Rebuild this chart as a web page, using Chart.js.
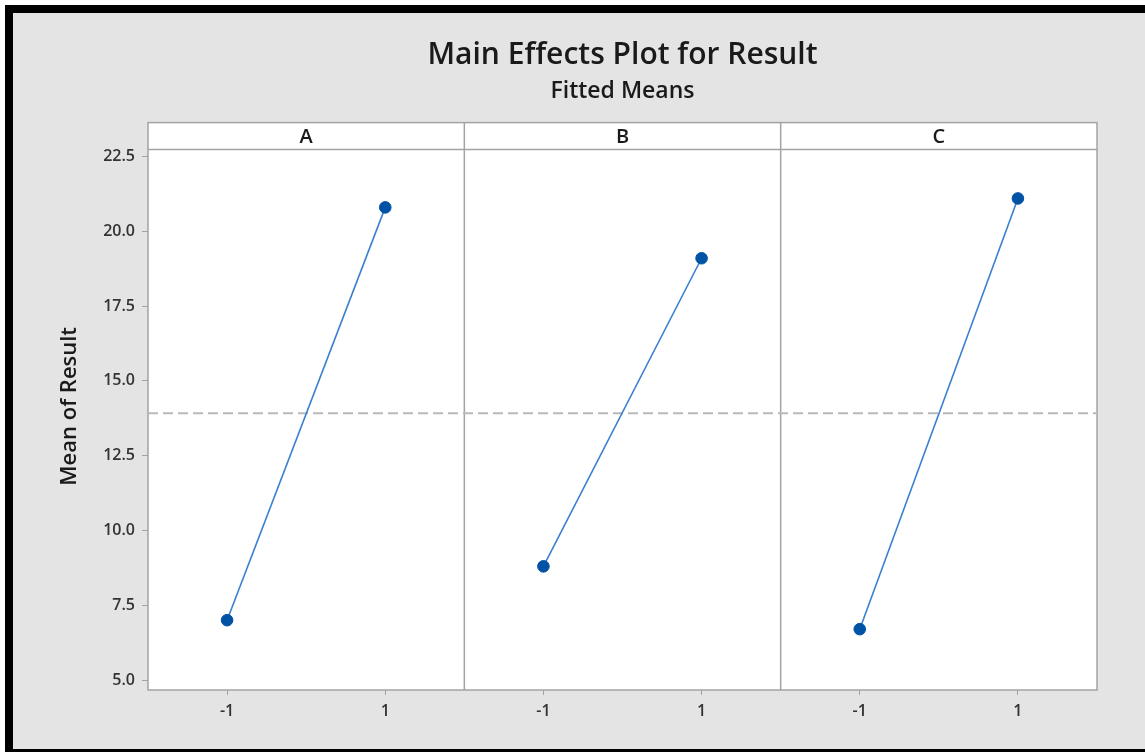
<!DOCTYPE html>
<html>
<head>
<meta charset="utf-8">
<title>Main Effects Plot for Result</title>
<script src="https://cdn.jsdelivr.net/npm/chart.js@4/dist/chart.umd.min.js"></script>
<style>
  html, body { margin: 0; padding: 0; background: #fff; }
  #frame {
    position: absolute; left: 5px; top: 5px;
    width: 1132px; height: 736px;
    border-left: 8px solid #000; border-top: 8px solid #000; border-bottom: 3px solid #000;
    background: #e4e4e4;
  }
  #wrap { position: relative; width: 1132px; height: 736px; }
</style>
</head>
<body>
<div id="frame"><div id="wrap"><canvas id="chart"></canvas></div></div>
<script>
// factors shown as panels, each with two levels
const factors = ["A", "B", "C"];
const levels = [-1, 1];
const levelLabels = ["-1", "1"];

// fitted means of Result for each factor at level -1 and 1
const meansA = [7.0, 20.8];
const meansB = [8.8, 19.1];
const meansC = [6.7, 21.1];

const yTicks = [5.0, 7.5, 10.0, 12.5, 15.0, 17.5, 20.0, 22.5];

const FONT = "'Open Sans', 'Noto Sans', sans-serif";
const panelWidth = 4;   // each panel spans level -2 .. 2
const lineColor = "#3b7fd0";
const pointColor = "#0052a5";
const frameColor = "#a3a3a3";

const allMeans = [meansA, meansB, meansC];
const grandMean = allMeans.flat().reduce((s, v) => s + v, 0) / allMeans.flat().length;

const xMin = -panelWidth / 2;
const xMax = xMin + panelWidth * factors.length;

function panelDatasets() {
    return allMeans.map((means, idx) => {
        return {
            "label": factors[idx],
            "data": levels.map((lv, i) => ({x: lv + panelWidth * idx, y: means[i]})),
            "borderColor": lineColor,
            "borderWidth": 1.6,
            "pointRadius": 5.8,
            "pointBackgroundColor": pointColor,
            "pointBorderColor": pointColor,
            "pointBorderWidth": 1,
            "showLine": true,
            "fill": false,
            "order": 1
        };
    });
}

// frame, strip headers and panel dividers
const panelPlugin = {
    id: "panels",
    beforeDraw(chart) {
        const {ctx, chartArea} = chart;
        ctx.save();
        ctx.fillStyle = "#fff";
        ctx.fillRect(chartArea.left, chartArea.top, chartArea.right - chartArea.left, chartArea.bottom - chartArea.top);
        ctx.restore();
    },
    beforeDatasetsDraw(chart) {
        const {ctx, chartArea, scales} = chart;
        const stripH = 27;
        ctx.save();
        ctx.strokeStyle = frameColor;
        ctx.lineWidth = 1.5;
        ctx.strokeRect(chartArea.left, chartArea.top, chartArea.right - chartArea.left, chartArea.bottom - chartArea.top);

        ctx.beginPath();
        ctx.moveTo(chartArea.left, chartArea.top + stripH);
        ctx.lineTo(chartArea.right, chartArea.top + stripH);
        for (let i = 1; i < factors.length; i++) {
            const x = scales.x.getPixelForValue(xMin + panelWidth * i);
            ctx.moveTo(x, chartArea.top);
            ctx.lineTo(x, chartArea.bottom);
        }
        ctx.stroke();

        ctx.fillStyle = "#1a1a1a";
        ctx.font = "600 20px " + FONT;
        ctx.textAlign = "center";
        ctx.textBaseline = "middle";
        factors.forEach((f, i) => {
            const x = scales.x.getPixelForValue(panelWidth * i);
            ctx.fillText(f, x, chartArea.top + stripH / 2 + 1);
        });
        ctx.restore();
    }
};

const datasets = panelDatasets();
datasets.push({
    "label": "mean",
    "data": [{x: xMin, y: grandMean}, {x: xMax, y: grandMean}],
    "borderColor": "#b9b9b9",
    "borderWidth": 2,
    "borderDash": [10, 5],
    "pointRadius": 0,
    "showLine": true,
    "fill": false,
    "order": 2
});

new Chart(document.getElementById("chart"), {
    type: "scatter",
    data: {datasets: datasets},
    plugins: [panelPlugin],
    options: {
        responsive: true,
        maintainAspectRatio: false,
        animation: false,
        layout: {padding: {left: 0, right: 48, top: 0, bottom: 0}},
        plugins: {
            legend: {display: false},
            tooltip: {enabled: false},
            title: {
                display: true,
                fullSize: false,
                text: "Main Effects Plot for Result",
                color: "#1a1a1a",
                font: {family: FONT, size: 30, weight: "600"},
                padding: {top: 24.4, bottom: 2}
            },
            subtitle: {
                display: true,
                fullSize: false,
                text: "Fitted Means",
                color: "#1a1a1a",
                font: {family: FONT, size: 23, weight: "600"},
                padding: {top: 2.4, bottom: 17.2}
            }
        },
        scales: {
            x: {
                type: "linear",
                min: xMin,
                max: xMax,
                afterBuildTicks: scale => {
                    scale.ticks = factors.flatMap((f, i) => levels.map(lv => ({value: lv + panelWidth * i})));
                },
                afterFit: scale => { scale.height = 59; },
                ticks: {
                    color: "#333",
                    font: {family: FONT, size: 16, weight: "600"},
                    padding: 7,
                    maxRotation: 0,
                    autoSkip: false,
                    callback: (value, index) => levelLabels[index % levelLabels.length]
                },
                grid: {drawOnChartArea: false, drawTicks: true, tickLength: 5, color: frameColor},
                border: {display: false}
            },
            y: {
                min: 4.666,
                max: 23.635,
                afterBuildTicks: scale => {
                    scale.ticks = yTicks.map(v => ({value: v}));
                },
                afterFit: scale => { scale.width = 135; },
                ticks: {
                    color: "#333",
                    font: {family: FONT, size: 16, weight: "600"},
                    padding: 7,
                    callback: value => value.toFixed(1)
                },
                grid: {drawOnChartArea: false, drawTicks: true, tickLength: 6, color: frameColor},
                border: {display: false},
                title: {
                    display: true,
                    text: "Mean of Result",
                    color: "#1a1a1a",
                    font: {family: FONT, size: 22, weight: "600"},
                    padding: {top: 44, bottom: 0}
                }
            }
        }
    }
});
</script>
</body>
</html>
